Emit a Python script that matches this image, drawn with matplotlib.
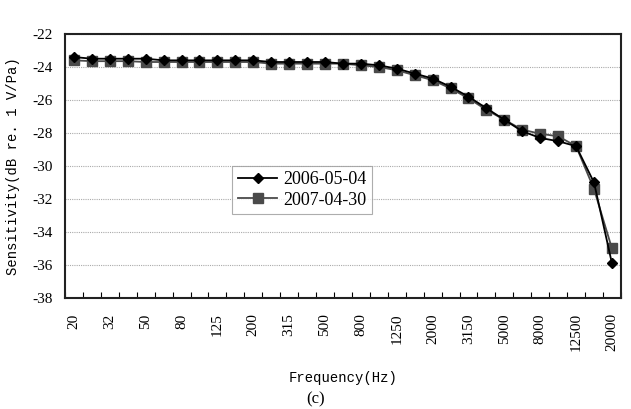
import numpy as np
import matplotlib
matplotlib.use("Agg")
import matplotlib.pyplot as plt
from matplotlib.ticker import FixedLocator

# 1/3 octave bands
freqs = ["20", "25", "32", "40", "50", "63", "80", "100", "125", "160",
         "200", "250", "315", "400", "500", "630", "800", "1000", "1250", "1600",
         "2000", "2500", "3150", "4000", "5000", "6300", "8000", "10000", "12500", "16000",
         "20000"]
s2006 = [-23.4, -23.5, -23.5, -23.5, -23.5, -23.6, -23.6, -23.6, -23.6, -23.6,
         -23.6, -23.7, -23.7, -23.7, -23.7, -23.8, -23.8, -23.9, -24.1, -24.4,
         -24.7, -25.2, -25.8, -26.5, -27.2, -27.9, -28.3, -28.5, -28.8, -31.0,
         -35.9]
s2007 = [-23.6, -23.65, -23.65, -23.65, -23.7, -23.7, -23.7, -23.7, -23.7, -23.7,
         -23.7, -23.8, -23.8, -23.8, -23.8, -23.8, -23.9, -24.0, -24.2, -24.5,
         -24.8, -25.3, -25.9, -26.6, -27.2, -27.8, -28.05, -28.2, -28.8, -31.4,
         -35.0]
labels = ["2006-05-04", "2007-04-30"]

serif = "Liberation Serif"
mono = "Liberation Mono"

fig = plt.figure(figsize=(6.31, 4.09), dpi=100)
ax = fig.add_axes([0.103, 0.2714, 0.881, 0.6456])

x = np.arange(len(freqs))
ax.plot(x, s2006, color="black", lw=1.3, marker="D", ms=5.5, label=labels[0], zorder=3)
ax.plot(x, s2007, color="#4a4a4a", lw=1.3, marker="s", ms=6.5, label=labels[1], zorder=2)

ax.set_xlim(-0.5, len(freqs) - 0.5)
ax.set_ylim(-38, -22)
ax.set_yticks(np.arange(-38, -21, 2))
ax.set_yticklabels([str(v) for v in range(-38, -21, 2)], fontfamily=serif, fontsize=11)
ax.set_xticks(x[::2])
ax.set_xticklabels(freqs[::2], rotation=90, fontfamily=serif, fontsize=11)
ax.xaxis.set_minor_locator(FixedLocator(np.arange(-0.5, len(freqs), 1)))
ax.tick_params(axis="x", which="major", length=0, pad=11)
ax.tick_params(axis="x", which="minor", direction="in", length=4, width=0.8, top=False)
ax.tick_params(axis="y", length=0, pad=9)

ax.yaxis.grid(True, color="#aaaaaa", linestyle=(0, (1, 1)), lw=0.8)
ax.set_axisbelow(True)
for sp in ax.spines.values():
    sp.set_linewidth(1.5)
    sp.set_color("#222222")

ax.set_ylabel("Sensitivity(dB re. 1 V/Pa)", fontfamily=mono, fontsize=10, labelpad=9)
ax.set_xlabel("Frequency(Hz)", fontfamily=mono, fontsize=10, labelpad=14)

leg = ax.legend(loc="upper left", bbox_to_anchor=(0.301, 0.501), frameon=True, fancybox=False,
                edgecolor="#999999", prop={"family": serif, "size": 13},
                handlelength=2.2, handletextpad=0.3, borderpad=0.3, labelspacing=0.2,
                borderaxespad=0)
leg.get_frame().set_linewidth(0.8)

fig.text(0.5, 0.003, "(c)", ha="center", va="bottom", fontfamily=serif, fontsize=12)

fig.savefig("out.png", dpi=100)
